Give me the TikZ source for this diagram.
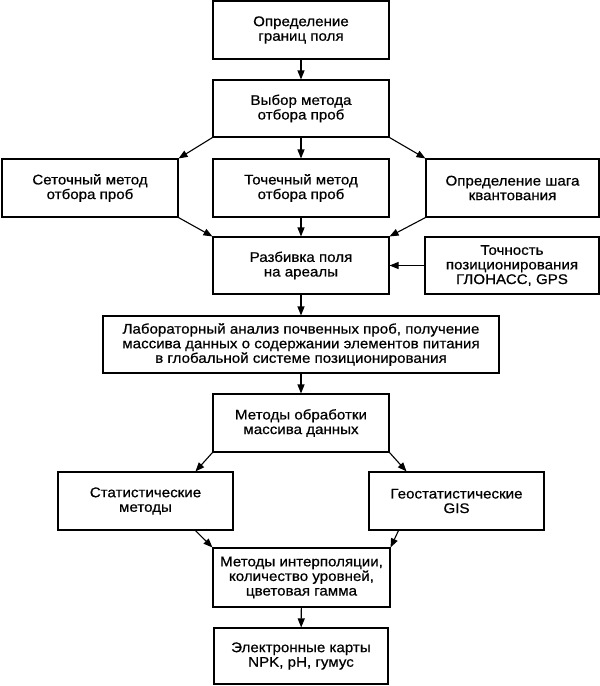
\documentclass[tikz,border=0pt]{standalone}
\usepackage{fontspec}
\setmainfont[FakeStretch=1.08,FakeBold=0.6]{Liberation Sans}
\usetikzlibrary{arrows.meta,calc}
\begin{document}
\begin{tikzpicture}[x=1pt,y=-1pt,
  box/.style={draw=black,line width=1.1pt,fill=white,align=center,inner sep=0pt,
    font=\fontsize{14}{14.6}\selectfont},
  arr/.style={line width=1.1pt,-{Triangle[length=9pt,width=7pt]}}]
\useasboundingbox (0,0) rectangle (600,686);
\node[box,minimum width=176pt,minimum height=58pt] (b1) at (301,30) {Определение\\границ поля};
\node[box,minimum width=176pt,minimum height=57pt] (b2) at (301,108.5) {Выбор метода\\отбора проб};
\node[box,minimum width=176pt,minimum height=58pt] (s1) at (90,188) {Сеточный метод\\отбора проб};
\node[box,minimum width=176pt,minimum height=58pt] (s2) at (301,188) {Точечный метод\\отбора проб};
\node[box,minimum width=173pt,minimum height=58pt] (s3) at (512.5,188) {Определение шага\\квантования};
\node[box,minimum width=176pt,minimum height=57pt] (r) at (301,265.5) {Разбивка поля\\на ареалы};
\node[box,minimum width=174pt,minimum height=57pt] (t) at (512,265.5) {Точность\\позиционирования\\ГЛОНАСС, GPS};
\node[box,minimum width=396pt,minimum height=57pt] (lab) at (301,344.5) {Лабораторный анализ почвенных проб, получение\\массива данных о содержании элементов питания\\в глобальной системе позиционирования};
\node[box,minimum width=176pt,minimum height=58pt] (m) at (301,423) {Методы обработки\\массива данных};
\node[box,minimum width=175pt,minimum height=58pt] (st) at (145.5,501) {Статистические\\методы};
\node[box,minimum width=175pt,minimum height=58pt] (geo) at (456.5,501) {Геостатистические\\GIS};
\node[box,minimum width=177pt,minimum height=59pt] (mi) at (301.5,577.5) {Методы интерполяции,\\количество уровней,\\цветовая гамма};
\node[box,minimum width=174pt,minimum height=56pt] (e) at (301,656) {Электронные карты\\NPK, pH, гумус};
\coordinate (stA) at ($(st.north)+(50,0)$);
\coordinate (stB) at ($(st.south)+(50,0)$);
\coordinate (geoA) at ($(geo.north)+(-50,0)$);
\coordinate (geoB) at ($(geo.south)+(-58,0)$);
\draw[arr] (b1) -- (b2);
\draw[arr] (b2.south west) -- (s1.north east);
\draw[arr] (b2) -- (s2);
\draw[arr] (b2.south east) -- (s3.north west);
\draw[arr] (s1.south east) -- (r.north west);
\draw[arr] (s2) -- (r);
\draw[arr] (s3.south west) -- (r.north east);
\draw[arr] (t) -- (r);
\draw[arr] (r) -- (lab);
\draw[arr] (lab) -- (m);
\draw[arr] (m.south west) -- (stA);
\draw[arr] (m.south east) -- (geoA);
\draw[arr] (stB) -- (mi.north west);
\draw[arr] (geoB) -- (mi.north east);
\draw[arr] (mi) -- (e);
\end{tikzpicture}
\end{document}
